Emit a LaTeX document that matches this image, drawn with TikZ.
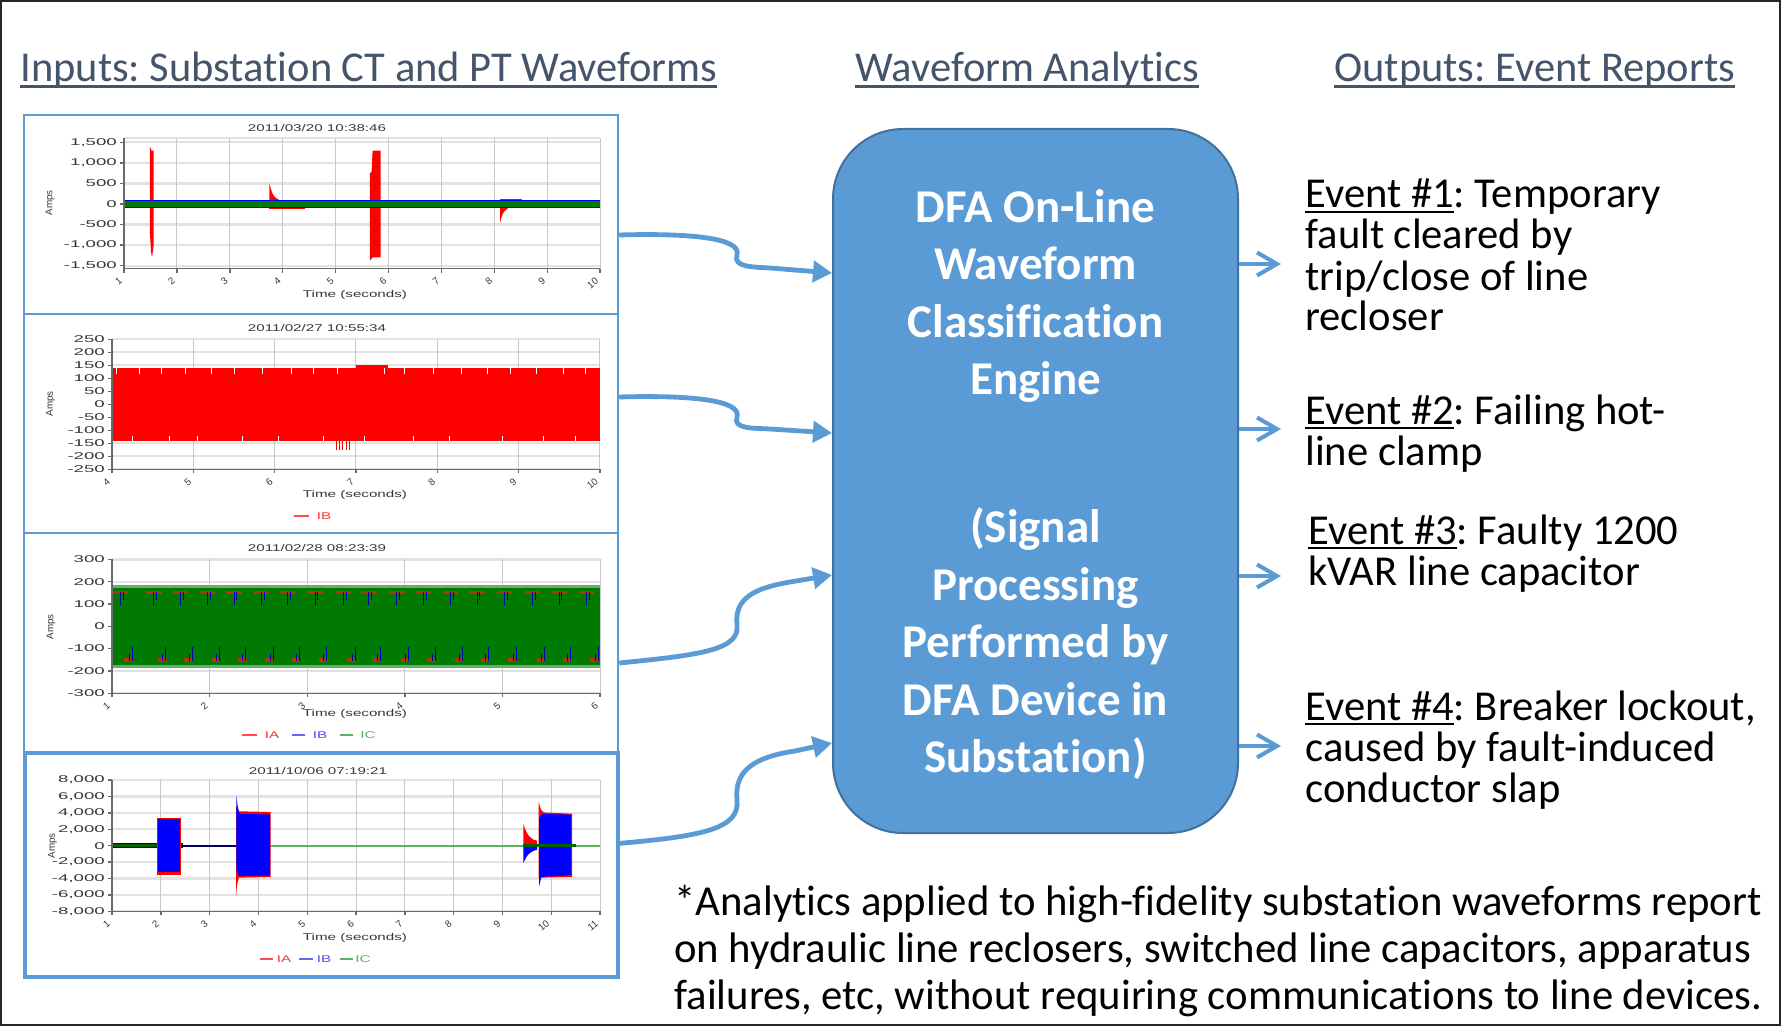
\documentclass[tikz,border=0pt]{standalone}
\usepackage{fontspec}
\setmainfont{Carlito}[Ligatures=NoCommon]
\newfontfamily\chartfont{Liberation Sans}
\usetikzlibrary{arrows.meta,positioning}
\frenchspacing

\definecolor{boxblue}{RGB}{91,155,213}
\definecolor{boxedge}{RGB}{65,113,156}
\definecolor{headcol}{RGB}{68,84,106}
\definecolor{gridcol}{RGB}{226,226,226}
\definecolor{vgridcol}{RGB}{200,200,200}
\definecolor{axiscol}{RGB}{105,105,105}
\definecolor{labcol}{RGB}{55,55,55}
\definecolor{plotred}{RGB}{255,0,0}
\definecolor{plotblue}{RGB}{0,0,255}
\definecolor{plotgreen}{RGB}{0,122,0}
\definecolor{linegreen}{RGB}{90,180,90}
\definecolor{spikebrown}{RGB}{185,50,20}

\newsavebox\ulbox
\newcommand\headul[1]{\sbox\ulbox{#1}\rlap{\rule[-3pt]{\wd\ulbox}{1.5pt}}\usebox\ulbox}
\newcommand\eventul[1]{\sbox\ulbox{#1}\rlap{\rule[-2.5pt]{\wd\ulbox}{1pt}}\usebox\ulbox}

\tikzset{
  heading/.style={anchor=base west, inner sep=0pt, text=headcol, font=\fontsize{21.25pt}{25pt}\selectfont},
  event/.style={anchor=base west, inner sep=0pt, align=left, font=\fontsize{21.3pt}{20.5pt}\selectfont},
  note/.style={anchor=base west, inner sep=0pt, align=left, font=\fontsize{21.35pt}{23.5pt}\selectfont},
  engine/.style={draw=boxedge, line width=1pt, fill=boxblue, rounded corners=35pt,
    minimum width=202.5pt, minimum height=352pt},
  enginetext/.style={text=white, align=center, inner sep=0pt,
    font=\fontsize{23.5pt}{28.75pt}\selectfont\bfseries},
  wavebox/.style={draw=boxblue, line width=1.2pt, inner sep=0pt},
  inarrow/.style={draw=boxblue, line width=2.4pt, -{Triangle[length=9.5pt,width=10.5pt]}},
  outarrow/.style={draw=boxblue, line width=2pt, -{Straight Barb[length=10pt,width=11.5pt]}},
  gridh/.style={draw=gridcol, line width=1.1pt},
  gridv/.style={draw=vgridcol, line width=0.5pt},
  axisline/.style={draw=axiscol, line width=0.7pt},
  ticklab/.style={text=labcol, inner sep=0.5pt, font=\chartfont\fontsize{4.9pt}{5.5pt}\selectfont},
  ylab/.style={ticklab, anchor=east, xscale=1.9},
  xlab/.style={ticklab, xshift=-1pt, yshift=-3pt, anchor=east, rotate=40},
  chartlab/.style={ticklab, inner sep=0pt, xscale=1.55},
  amps/.style={ticklab, inner sep=0pt, rotate=90},
  legline/.style={line width=0.6pt},
}

\begin{document}
\begin{tikzpicture}[x=0.5pt, y=-0.5pt]
\useasboundingbox (0,0) rectangle (1781,1026);
\draw[black!85, line width=1pt] (1,1) rectangle (1780,1025);

% headings
\node[heading] (inhead) at (20,82) {\headul{Inputs: Substation CT and PT Waveforms}};
\node[heading] (midhead) at (855,82) {\headul{Waveform Analytics}};
\node[heading] (outhead) at (1334,82) {\headul{Outputs: Event Reports}};

% waveform frames
\node[wavebox, minimum width=297pt, minimum height=99.5pt] (wave1) at (321,214.5) {};
\node[wavebox, minimum width=297pt, minimum height=109.5pt] (wave2) at (321,423.5) {};
\node[wavebox, minimum width=297pt, minimum height=109.5pt] (wave3) at (321,642.5) {};
\node[wavebox, line width=2pt, minimum width=296.7pt, minimum height=112.2pt] (wave4) at (321.3,864.8) {};

% chart 1
\begin{scope}[shift={(124,204)}, x=26.45pt, y=10.28pt]
\foreach \v in {-3,...,3} \draw[gridh] (0,\v) -- (9,\v);
\draw[gridh] (0,3.2) -- (9,3.2);
\foreach \t in {1,...,9} \draw[gridv] (\t,-3.15) -- (\t,3.2);
\fill[plotred] (0.49,-1.4) -- (0.49,2.8) -- (0.52,2.6) -- (0.56,2.6) -- (0.56,-2.0) -- (0.53,-2.6) -- (0.51,-2.3) -- cycle;
\fill[plotred] (2.75,0) -- (2.75,1.0) .. controls (2.8,0.4) and (2.85,0.2) .. (3.05,0.12) -- (3.05,0) -- cycle;
\fill[plotred] (2.75,-0.26) rectangle (3.42,-0.1);
\fill[plotred] (4.65,-2.75) -- (4.65,1.5) -- (4.68,1.55) -- (4.7,2.6) -- (4.85,2.6) -- (4.85,-2.6) -- (4.7,-2.6) -- cycle;
\fill[plotred] (7.11,0) -- (7.11,-0.92) .. controls (7.15,-0.4) and (7.2,-0.2) .. (7.37,-0.1) -- (7.37,0) -- cycle;
\fill[plotred] (7.11,0.12) rectangle (7.52,0.24);
\fill[plotblue] (0,-0.2) rectangle (9,0.2);
\fill[plotgreen] (0,-0.15) rectangle (9,0.15);
\draw[axisline] (0,3.2) -- (0,-3.15) -- (9,-3.15);
\foreach \v/\l in {3/1{,}500, 2/1{,}000, 1/500, 0/0, -1/-500, -2/-1{,}000, -3/-1{,}500}
  \draw[axisline] (0,\v) -- ++(-2pt,0) node[ylab] (ya-\v) {\l};
\foreach \t in {0,...,9} {
  \pgfmathtruncatemacro\s{\t+1}
  \draw[axisline] (\t,-3.15) -- ++(0,-2pt) node[xlab] (xa-\t) {\s};
}
\end{scope}
\node[chartlab] (title1) at (317,128) {2011/03/20 10:38:46};
\node[chartlab] (time1) at (355,295) {Time (seconds)};
\node[amps] (amps1) at (50,203) {Amps};

% chart 2
\begin{scope}[shift={(112,404.3)}, x=40.65pt, y=6.5pt]
\foreach \v in {-5,...,5} \draw[gridh] (0,\v) -- (6,\v);
\foreach \t in {1,...,6} \draw[gridv] (\t,-5) -- (\t,5);
\fill[plotred] (0,-2.85) rectangle (6,2.8);
\fill[plotred] (3.0,2.8) rectangle (3.4,3.0);
\foreach \t in {2.76,2.8,...,2.94} \draw[plotred, line width=0.6pt] (\t,-2.85) -- (\t,-3.55);
\foreach \t in {0.05,0.33,0.61,0.9,1.22,1.5,1.85,2.2,2.47,2.77,3.35,3.6,3.95,4.3,4.62,4.9,5.22,5.55,5.82}
  \draw[white, line width=0.3pt] (\t,2.8) -- (\t,2.3);
\foreach \t in {0.25,0.7,1.05,1.6,2.05,2.6,3.1,3.7,4.15,4.8,5.3,5.7}
  \draw[white, line width=0.3pt] (\t,-2.85) -- (\t,-2.4);
\draw[axisline] (0,5) -- (0,-5) -- (6,-5);
\foreach \v in {-5,...,5} {
  \pgfmathtruncatemacro\l{50*\v}
  \draw[axisline] (0,\v) -- ++(-2pt,0) node[ylab] (yb-\v) {\l};
}
\foreach \t in {0,...,6} {
  \pgfmathtruncatemacro\s{\t+4}
  \draw[axisline] (\t,-5) -- ++(0,-2pt) node[xlab] (xb-\t) {\s};
}
\end{scope}
\node[chartlab] (title2) at (317,328) {2011/02/27 10:55:34};
\node[chartlab] (time2) at (355,495) {Time (seconds)};
\node[amps] (amps2) at (50.6,404) {Amps};
\draw[legline, plotred!70] (294,516) -- (309,516);
\node[chartlab, text=plotred!80] (leg2b) at (324,516) {IB};

% chart 3
\begin{scope}[shift={(112,626.3)}, x=48.8pt, y=11.15pt]
\foreach \v in {-3,...,3} \draw[gridh] (0,\v) -- (5,\v);
\foreach \t in {1,...,5} \draw[gridv] (\t,-3) -- (\t,3);
\fill[plotgreen] (0,-1.75) rectangle (5,1.72);
\fill[plotgreen!60!white] (0,1.72) rectangle (5,1.84);
\fill[plotgreen!60!white] (0,-1.75) rectangle (5,-1.86);
\foreach \t in {0.085,0.43,0.70,0.98,1.25,1.53,1.80,2.08,2.37,2.63,2.92,3.19,3.47,3.74,4.02,4.31,4.58,4.86} {
  \fill[spikebrown] (\t-0.08,1.44) rectangle (\t+0.08,1.6);
  \draw[plotblue!70!black, line width=0.5pt] (\t,1.55) -- (\t,0.95);
  \draw[plotblue!70!black, line width=0.5pt] (\t+0.03,1.55) -- (\t+0.03,1.2);
  \fill[spikebrown] (\t+0.04,-1.6) rectangle (\t+0.13,-1.44);
  \draw[plotblue!70!black, line width=0.5pt] (\t+0.12,-1.55) -- (\t+0.12,-0.95);
  \draw[plotblue!70!black, line width=0.5pt] (\t+0.09,-1.55) -- (\t+0.09,-1.25);
}
\draw[axisline] (0,3) -- (0,-3) -- (5,-3);
\foreach \v in {-3,...,3} {
  \pgfmathtruncatemacro\l{100*\v}
  \draw[axisline] (0,\v) -- ++(-2pt,0) node[ylab] (yc-\v) {\l};
}
\foreach \t in {0,...,5} {
  \pgfmathtruncatemacro\s{\t+1}
  \draw[axisline] (\t,-3) -- ++(0,-2pt) node[xlab] (xc-\t) {\s};
}
\end{scope}
\node[chartlab] (title3) at (317,548) {2011/02/28 08:23:39};
\node[chartlab] (time3) at (355,714) {Time (seconds)};
\node[amps] (amps3) at (51,627) {Amps};
\draw[legline, plotred!70] (242,735) -- (257,735);
\node[chartlab, text=plotred!80] (leg3a) at (272,735) {IA};
\draw[legline, plotblue!60] (292,735) -- (305,735);
\node[chartlab, text=plotblue!70] (leg3b) at (320,735) {IB};
\draw[legline, linegreen] (340,735) -- (353,735);
\node[chartlab, text=linegreen] (leg3c) at (368,735) {IC};

% chart 4
\begin{scope}[shift={(112,845.7)}, x=24.4pt, y=8.2pt]
\foreach \v in {-4,...,4} \draw[gridh] (0,\v) -- (10,\v);
\foreach \t in {1,...,10} \draw[gridv] (\t,-4) -- (\t,4);
\fill[plotblue!45!black] (0,-0.14) rectangle (1.45,0.14);
\fill[plotgreen!80!black] (0,-0.08) rectangle (1.45,0.1);
\draw[plotblue!40!black, line width=0.8pt] (1.4,0) -- (2.6,0);
\fill[plotred] (0.93,-1.8) rectangle (1.41,1.71);
\fill[plotblue] (0.95,-1.6) rectangle (1.39,1.64);
\fill[plotred] (2.545,-3.05) -- (2.545,2.4) -- (2.6,2.1) -- (3.25,2.05) -- (3.25,-1.9) -- (2.6,-1.95) -- (2.56,-2.4) -- cycle;
\fill[plotblue] (2.55,-1.5) -- (2.55,3.03) -- (2.58,2.3) -- (2.62,1.95) -- (3.24,1.9) -- (3.24,-1.82) -- (2.6,-1.85) -- cycle;
\draw[linegreen, line width=0.9pt] (3.25,0) -- (10,0);
\fill[plotred] (8.43,0) -- (8.43,1.32) .. controls (8.5,0.6) and (8.6,0.35) .. (8.71,0.3) -- (8.71,0) -- cycle;
\fill[plotblue] (8.43,0) -- (8.43,-1.07) .. controls (8.5,-0.5) and (8.6,-0.3) .. (8.71,-0.25) -- (8.71,0) -- cycle;
\fill[plotred] (8.74,-1.95) -- (8.74,2.68) -- (8.79,2.2) -- (8.85,2.03) -- (9.43,1.95) -- (9.43,-1.9) -- cycle;
\fill[plotblue] (8.75,-2.5) -- (8.75,1.6) -- (8.8,1.93) -- (9.41,1.9) -- (9.41,-1.8) -- (8.8,-1.9) -- cycle;
\fill[plotgreen!80!black] (8.43,-0.08) rectangle (9.5,0.1);
\draw[axisline] (0,4) -- (0,-4) -- (10,-4);
\foreach \v/\l in {4/8{,}000, 3/6{,}000, 2/4{,}000, 1/2{,}000, 0/0, -1/-2{,}000, -2/-4{,}000, -3/-6{,}000, -4/-8{,}000}
  \draw[axisline] (0,\v) -- ++(-2pt,0) node[ylab] (yd-\v) {\l};
\foreach \t in {0,...,10} {
  \pgfmathtruncatemacro\s{\t+1}
  \draw[axisline] (\t,-4) -- ++(0,-2pt) node[xlab] (xd-\t) {\s};
}
\end{scope}
\node[chartlab] (title4) at (318,770.7) {2011/10/06 07:19:21};
\node[chartlab] (time4) at (355,937.7) {Time (seconds)};
\node[amps] (amps4) at (52.5,845.7) {Amps};
\draw[legline, plotred!70] (260,959) -- (272.6,959);
\node[chartlab, text=plotred!80] (leg4a) at (284,959) {IA};
\draw[legline, plotblue!60] (299,959) -- (313,959);
\node[chartlab, text=plotblue!70] (leg4b) at (324,959) {IB};
\draw[legline, linegreen] (340,959) -- (353,959);
\node[chartlab, text=linegreen] (leg4c) at (363,959) {IC};

% analytics engine
\node[engine] (engine) at (1035.5,481) {};
\node[enginetext] (engtxt) at ([yshift=-1.7pt]engine.center) {DFA On-Line\\Waveform\\Classification\\Engine\\[45.25pt](Signal\\Processing\\Performed by\\DFA Device in\\Substation)};

% event reports (base = last line)
\node[event] (ev1) at (1305,331) {\eventul{Event \#1}: Temporary\\fault cleared by\\trip/close of line\\recloser};
\node[event] (ev2) at (1305,465) {\eventul{Event \#2}: Failing hot-\\line clamp};
\node[event] (ev3) at (1308,585) {\eventul{Event \#3}: Faulty 1200\\kVAR line capacitor};
\node[event] (ev4) at (1305,802) {\eventul{Event \#4}: Breaker lockout,\\caused by fault-induced\\conductor slap};

\node[note] (note) at (674,1009) {*Analytics applied to high-fidelity substation waveforms report\\on hydraulic line reclosers, switched line capacitors, apparatus\\failures, etc, without requiring communications to line devices.};

% inputs into the engine
\coordinate (in1) at ([yshift=-10.25pt]wave1.east);
\coordinate (in2) at ([yshift=13.25pt]wave2.east);
\coordinate (in3) at ([yshift=-10.25pt]wave3.east);
\coordinate (in4) at ([yshift=10.75pt]wave4.east);
\coordinate (ein1) at ([yshift=104pt]engine.west);
\coordinate (ein2) at ([yshift=24pt]engine.west);
\coordinate (ein3) at ([yshift=-47pt]engine.west);
\coordinate (ein4) at ([yshift=-131pt]engine.west);
\draw[inarrow] (in1) .. controls (690,233) and (742,238) .. (737,255) .. controls (733,267) and (752,267) .. (770,268) -- (ein1);
\draw[inarrow] (in2) .. controls (690,395) and (742,400) .. (737,417) .. controls (733,429) and (752,428) .. (770,429) -- (ein2);
\draw[inarrow] (in3) .. controls (700,655) and (740,650) .. (737,625) .. controls (734,598) and (755,588) .. (790,582) -- (ein3);
\draw[inarrow] (in4) .. controls (705,836) and (740,828) .. (737,800) .. controls (734,770) and (755,757) .. (795,751) -- (ein4);

% engine to reports
\coordinate (out1) at ([yshift=108.5pt]engine.east);
\coordinate (out2) at ([yshift=26pt]engine.east);
\coordinate (out3) at ([yshift=-47.5pt]engine.east);
\coordinate (out4) at ([yshift=-132.5pt]engine.east);
\draw[outarrow, shorten >=12pt] (out1) -- (out1 -| ev1.west);
\draw[outarrow, shorten >=12pt] (out2) -- (out2 -| ev2.west);
\draw[outarrow, shorten >=13.5pt] (out3) -- (out3 -| ev3.west);
\draw[outarrow, shorten >=12pt] (out4) -- (out4 -| ev4.west);
\end{tikzpicture}
\end{document}
